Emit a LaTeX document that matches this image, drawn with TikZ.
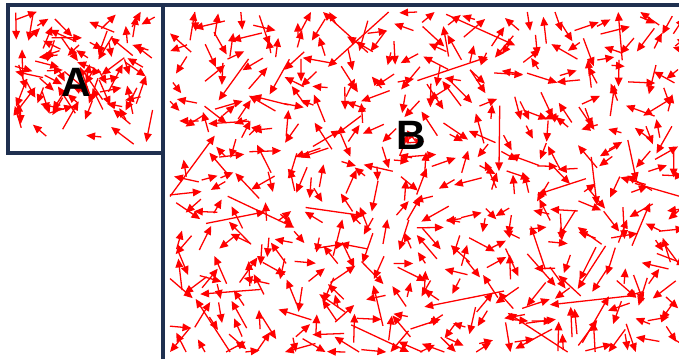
\documentclass[tikz,border=0pt]{standalone}
\usepackage{fontspec}
\setmainfont{Liberation Sans}
\usepackage{xcolor}
\usepackage{tikz}
\usetikzlibrary{arrows.meta, calc}
\definecolor{frameblue}{RGB}{31,48,80}
\definecolor{vecred}{RGB}{255,0,0}
\tikzset{
  vec/.style={-{Triangle[length=7.5pt, width=6.5pt]}, vecred, line width=1.1pt},
  panel/.style={draw=frameblue, line width=2.6pt}
}

\begin{document}
\begin{tikzpicture}[x=0.3mm, y=-0.3mm,
  tag/.style={font=\fontsize{35}{35}\selectfont\bfseries, inner sep=0pt}
]
  \useasboundingbox (0,0) rectangle (679,358);
  % panel A: small field
  \pgfmathsetseed{11}
  \foreach \i in {1,...,84}{
    \pgfmathsetmacro\ang{360*rnd}
    \pgfmathsetmacro\len{13+20*rnd}
    \pgfmathsetmacro\dx{\len*cos(\ang)}
    \pgfmathsetmacro\dy{\len*sin(\ang)}
    \pgfmathsetmacro\cx{14+abs(\dx)/2+rnd*(142-abs(\dx))}
    \pgfmathsetmacro\cy{11+abs(\dy)/2+rnd*(136-abs(\dy))}
    \draw[vec] (\cx-\dx/2,\cy-\dy/2) -- (\cx+\dx/2,\cy+\dy/2);
  }
  % panel B: jittered grid of vectors
  \pgfmathsetseed{42}
  \foreach \gx in {186,213,...,674}{
    \foreach \gy in {24,51,...,348}{
      \foreach \k in {1,2}{
        \pgfmathsetmacro\ang{360*rnd}
        \pgfmathsetmacro\len{13+19*rnd}
        \pgfmathsetmacro\len{rnd<0.06 ? 2.6*\len : \len}
        \pgfmathsetmacro\dx{\len*cos(\ang)}
        \pgfmathsetmacro\dy{\len*sin(\ang)}
        \pgfmathsetmacro\cx{\gx+17*(rnd+rnd-1)}
        \pgfmathsetmacro\cy{\gy+17*(rnd+rnd-1)}
        \pgfmathsetmacro\cx{max(170+abs(\dx)/2, min(700-abs(\dx)/2, \cx))}
        \pgfmathsetmacro\cy{max(12+abs(\dy)/2, min(352-abs(\dy)/2, \cy))}
        \draw[vec] (\cx-\dx/2,\cy-\dy/2) -- (\cx+\dx/2,\cy+\dy/2);
      }
    }
  }
  \draw[panel] (8,5) rectangle (163,153);
  \draw[panel] (163,366) -- (163,5) -- (690,5);
  \node[tag] (tagA) at (76,82) {A};
  \node[tag] (tagB) at (411,135) {B};
\end{tikzpicture}
\end{document}
